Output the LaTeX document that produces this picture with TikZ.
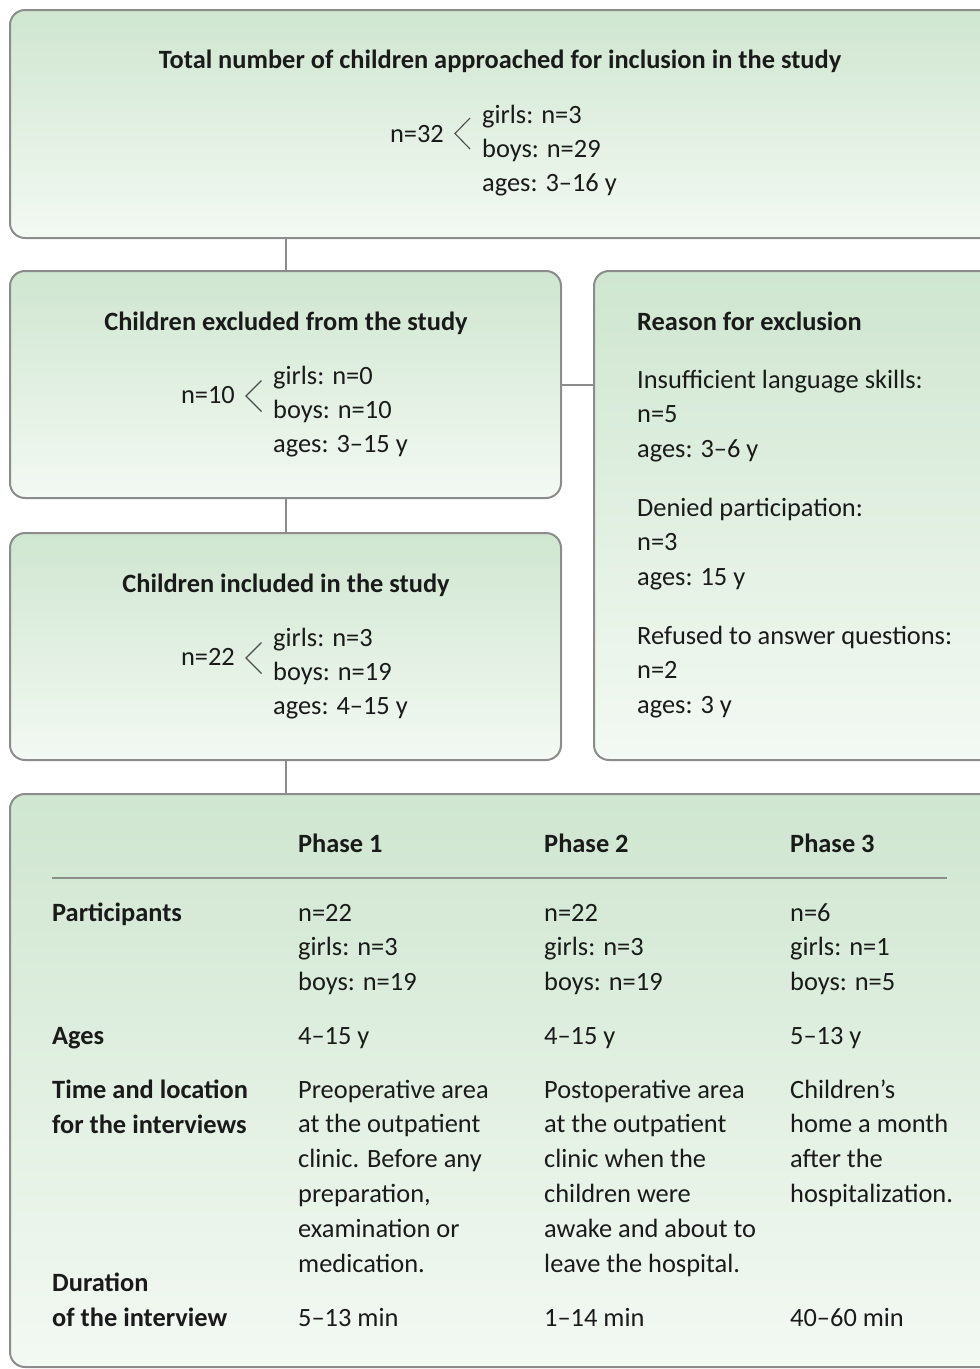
\documentclass[tikz,border=0pt]{standalone}
\usepackage{fontspec}
\setmainfont{Carlito}
\definecolor{gtop}{HTML}{CFE6D0}
\definecolor{gbot}{HTML}{F3F9F3}
\definecolor{edge}{HTML}{8C8C8C}
\definecolor{ink}{HTML}{1A1A1A}
\tikzset{
  box/.style={draw=edge, line width=2pt, rounded corners=15pt, top color=gtop, bottom color=gbot, inner sep=0pt},
  conn/.style={draw=edge, line width=2pt},
  txt/.style={anchor=base west, inner sep=0pt, text=ink, font=\fontsize{26.4}{34}\selectfont},
  ttl/.style={anchor=base, inner sep=0pt, text=ink, font=\fontsize{26.4}{34}\selectfont\bfseries},
  btxt/.style={txt, font=\fontsize{26.4}{34}\selectfont\bfseries},
  chev/.style={draw=black!70, line width=1.1pt},
  rule/.style={draw=black!45, line width=1.5pt}
}
\begin{document}
\begin{tikzpicture}[x=1pt,y=-1pt]
\useasboundingbox (0,0) rectangle (980,1369);
\clip (0,0) rectangle (980,1369);
% boxes
\node[box, minimum width=990pt, minimum height=228pt] (top) at (505,124) {};
\node[box, minimum width=551pt, minimum height=227pt] (excl) at (285.5,384.5) {};
\node[box, minimum width=416pt, minimum height=489pt] (reason) at (802,515.5) {};
\node[box, minimum width=551pt, minimum height=227pt] (incl) at (285.5,646.5) {};
\node[box, minimum width=1000pt, minimum height=573pt] (tab) at (510,1080.5) {};
% connectors
\draw[conn] (excl.north) -- (excl.north |- top.south);
\draw[conn] (excl.east) -- (reason.west |- excl.east);
\draw[conn] (excl.south) -- (incl.north);
\draw[conn] (incl.south) -- (incl.south |- tab.north);
% top box
\node[ttl] (toptitle) at (500,68) {Total number of children approached for inclusion in the study};
\node[txt, anchor=base east] (topn) at (444,142) {n=32};
\node[txt] (topg) at (482,123) {girls: n=3};
\node[txt] (topb) at (482,157) {boys: n=29};
\node[txt] (topa) at (482,191) {ages: 3–16 y};
\draw[chev] (470,118) -- (455,133.5) -- (470,149);
% excluded
\node[ttl] (extitle) at (286,330) {Children excluded from the study};
\node[txt, anchor=base east] (exn) at (235,403) {n=10};
\node[txt] (exg) at (273,384) {girls: n=0};
\node[txt] (exb) at (273,418) {boys: n=10};
\node[txt] (exa) at (273,452) {ages: 3–15 y};
\draw[chev] (261.5,380.5) -- (246,396) -- (261.5,411.5);
% included
\node[ttl] (intitle) at (286,592) {Children included in the study};
\node[txt, anchor=base east] (inn) at (235,665) {n=22};
\node[txt] (ing) at (273,646) {girls: n=3};
\node[txt] (inb) at (273,680) {boys: n=19};
\node[txt] (ina) at (273,714) {ages: 4–15 y};
\draw[chev] (261.5,642.5) -- (246,658) -- (261.5,673.5);
% reason
\node[btxt] (retitle) at (637,330) {Reason for exclusion};
\foreach \t [count=\i] in {Insufficient language skills:, n=5, ages: 3–6 y}
  \node[txt] (rea\i) at (637,{388+34.5*(\i-1)}) {\t};
\foreach \t [count=\i] in {Denied participation:, n=3, ages: 15 y}
  \node[txt] (reb\i) at (637,{516+34.5*(\i-1)}) {\t};
\foreach \t [count=\i] in {Refused to answer questions:, n=2, ages: 3 y}
  \node[txt] (rec\i) at (637,{644+34.5*(\i-1)}) {\t};
% table
\node[btxt] (h1) at (298,852) {Phase 1};
\node[btxt] (h2) at (544,852) {Phase 2};
\node[btxt] (h3) at (790,852) {Phase 3};
\coordinate (rl) at (52,878);
\coordinate (rr) at (947,878);
\draw[rule] (rl) -- (rr);
\node[btxt] (lpart) at (52,921) {Participants};
\node[btxt] (lages) at (52,1044) {Ages};
\node[btxt] (ltime1) at (52,1098) {Time and location};
\node[btxt] (ltime2) at (52,1133) {for the interviews};
\node[btxt] (ldur1) at (52,1291) {Duration};
\node[btxt] (ldur2) at (52,1326) {of the interview};
\foreach \t [count=\i] in {n=22, girls: n=3, boys: n=19}
  \node[txt] (pa\i) at (298,{921+34.5*(\i-1)}) {\t};
\foreach \t [count=\i] in {n=22, girls: n=3, boys: n=19}
  \node[txt] (pb\i) at (544,{921+34.5*(\i-1)}) {\t};
\foreach \t [count=\i] in {n=6, girls: n=1, boys: n=5}
  \node[txt] (pc\i) at (790,{921+34.5*(\i-1)}) {\t};
\node[txt] (aga) at (298,1044) {4–15 y};
\node[txt] (agb) at (544,1044) {4–15 y};
\node[txt] (agc) at (790,1044) {5–13 y};
\foreach \t [count=\i] in {Preoperative area, at the outpatient, clinic. Before any, {preparation,}, examination or, medication.}
  \node[txt] (ta\i) at (298,{1098+34.8*(\i-1)}) {\t};
\foreach \t [count=\i] in {Postoperative area, at the outpatient, clinic when the, children were, awake and about to, leave the hospital.}
  \node[txt] (tb\i) at (544,{1098+34.8*(\i-1)}) {\t};
\foreach \t [count=\i] in {Children’s, home a month, after the, hospitalization.}
  \node[txt] (tc\i) at (790,{1098+34.8*(\i-1)}) {\t};
\node[txt] (da) at (298,1326) {5–13 min};
\node[txt] (db) at (544,1326) {1–14 min};
\node[txt] (dc) at (790,1326) {40–60 min};
\end{tikzpicture}
\end{document}
